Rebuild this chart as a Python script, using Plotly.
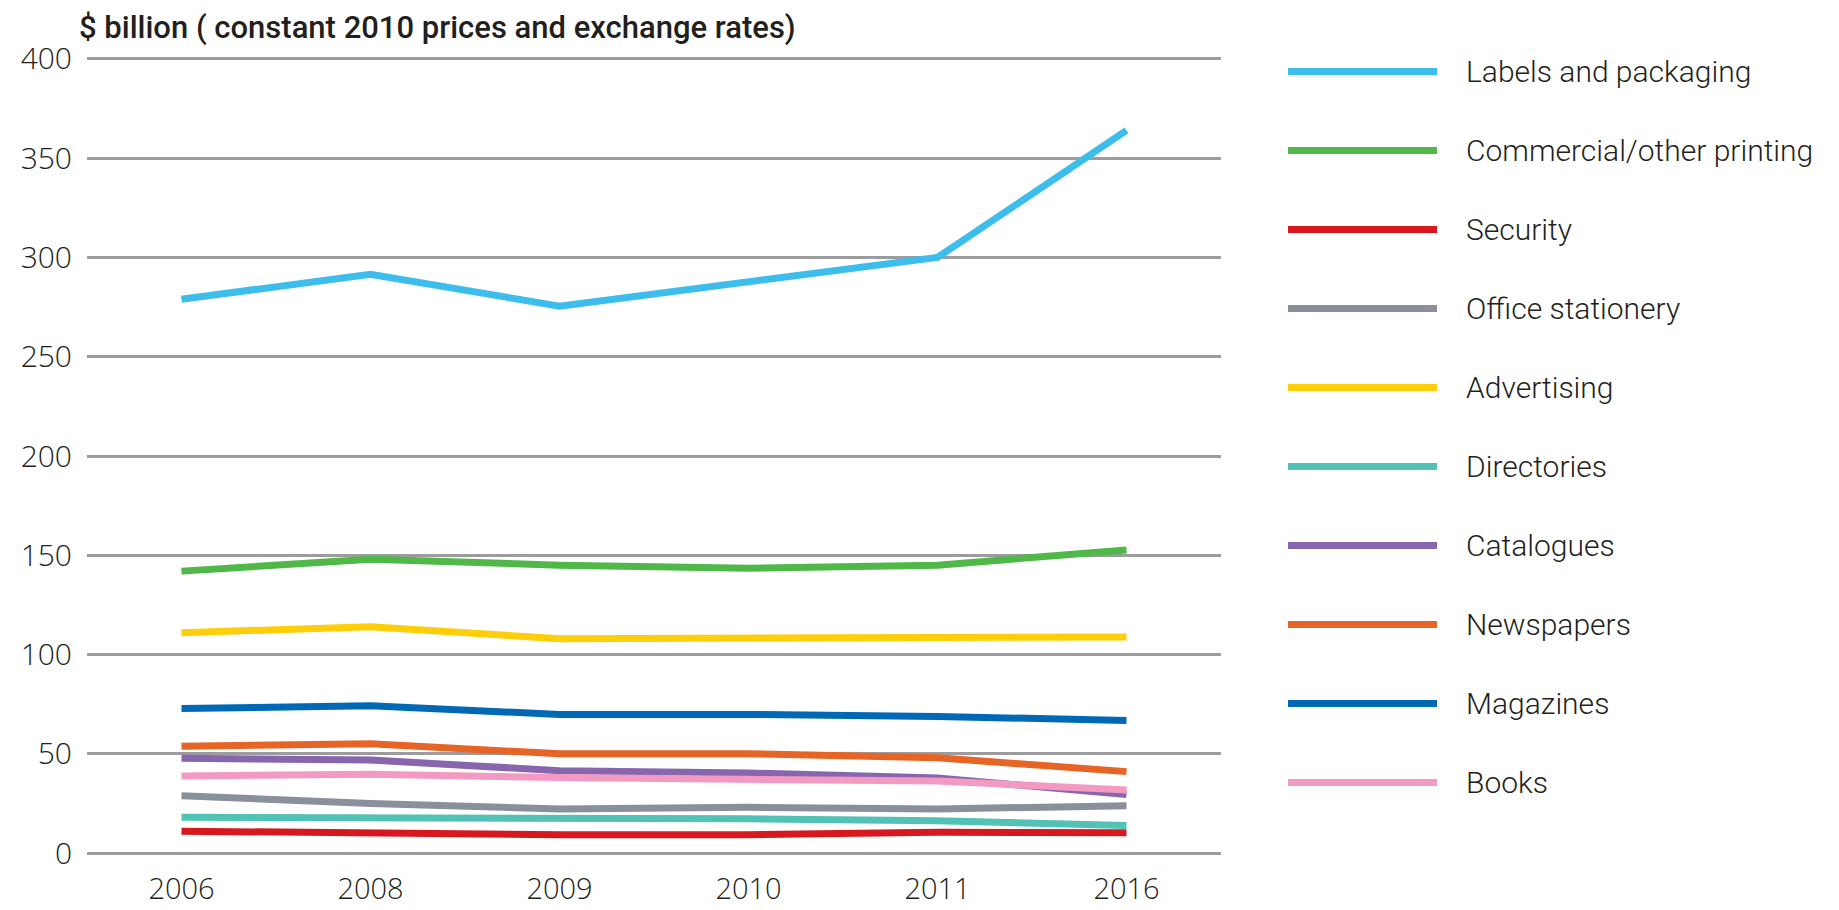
import plotly.graph_objects as go

# Years on the category axis
years = ["2006", "2008", "2009", "2010", "2011", "2016"]

# Print market value by segment, $ billion (constant 2010 prices and exchange rates)
labels_packaging = [279, 291.5, 275.5, 288, 300, 364]
commercial_other = [142, 148, 145, 143.5, 145, 152.7]
security = [11, 10, 9.2, 9.2, 10.5, 10.2]
office_stationery = [28.8, 25, 22.2, 23, 22.2, 23.8]
advertising = [111, 114, 108, 108, 108, 108.8]
directories = [18, 18, 17.2, 17.2, 16.3, 13.8]
catalogues = [47.8, 46.8, 41.5, 40.3, 37.8, 29.5]
newspapers = [53.8, 55, 50, 50, 48, 41]
magazines = [72.8, 74.2, 69.8, 69.8, 68.8, 66.8]
books = [38.8, 39.7, 38, 37.2, 36.3, 31.7]

series_names = [
    "Labels and packaging", "Commercial/other printing", "Security",
    "Office stationery", "Advertising", "Directories", "Catalogues",
    "Newspapers", "Magazines", "Books",
]
series_values = [
    labels_packaging, commercial_other, security, office_stationery,
    advertising, directories, catalogues, newspapers, magazines, books,
]
series_colors = [
    "#3dbdec", "#4fb848", "#d7191f", "#8a8f9c", "#ffce0a",
    "#52c1b6", "#8866ad", "#e66425", "#0068b4", "#f39ac2",
]

y_ticks = [0, 50, 100, 150, 200, 250, 300, 350, 400]
title_text = "$ billion ( constant 2010 prices and exchange rates)"

TEXT = "#231f20"
GRID = "#9c9c9e"
W, H = 1839, 910
ML, MT, MB = 87, 57, 55
PLOT_W = 1134
PAPER_W = W - ML
LEG_X0 = 1288

fig = go.Figure()

for name, vals, col in zip(series_names, series_values, series_colors):
    fig.add_trace(go.Scatter(
        x=years, y=vals, mode="lines", name=name,
        line=dict(color=col, width=7),
        showlegend=False, xaxis="x", yaxis="y",
    ))

# Hand-built key on its own pair of axes to the right of the plot
for i, (name, col) in enumerate(zip(series_names, series_colors)):
    fig.add_trace(go.Scatter(
        x=[0, 149], y=[i, i], mode="lines",
        line=dict(color=col, width=7),
        showlegend=False, hoverinfo="skip", xaxis="x2", yaxis="y2",
    ))
    fig.add_annotation(
        x=176, y=i, xref="x2", yref="y2", text=name, showarrow=False,
        xanchor="left", yanchor="middle",
        font=dict(family="Roboto, Liberation Sans, sans-serif", size=30,
                  color=TEXT, weight=300),
    )

row_px = 79
plot_h = H - MT - MB
top_off = (71.5 - MT) / row_px

fig.update_layout(
    width=W, height=H,
    margin=dict(l=ML, r=0, t=MT, b=MB),
    paper_bgcolor="white", plot_bgcolor="white",
    title=dict(
        text=title_text, x=79 / W, xref="container", xanchor="left",
        y=1 - 27 / H, yref="container", yanchor="middle",
        font=dict(family="Roboto, Liberation Sans, sans-serif", size=31,
                  color=TEXT, weight=500),
    ),
    xaxis=dict(
        domain=[0, PLOT_W / PAPER_W], type="category",
        range=[-0.5, 5.5], showgrid=False, zeroline=False, showline=False,
        ticks="", ticklabelstandoff=14,
        tickfont=dict(family="Open Sans, sans-serif", size=29, color=TEXT,
                      weight=300),
    ),
    yaxis=dict(
        range=[-1, 401], tickvals=y_ticks, showgrid=True, gridcolor=GRID,
        gridwidth=3, zeroline=False, showline=False, ticks="",
        ticklabelstandoff=14,
        tickfont=dict(family="Open Sans, sans-serif", size=30, color=TEXT,
                      weight=300),
    ),
    xaxis2=dict(
        domain=[(LEG_X0 - ML) / PAPER_W, 1], range=[0, W - LEG_X0],
        visible=False, anchor="y2",
    ),
    yaxis2=dict(
        domain=[0, 1], range=[plot_h / row_px - top_off, -top_off],
        visible=False, anchor="x2",
    ),
    showlegend=False,
)

fig.write_html("out.html")
